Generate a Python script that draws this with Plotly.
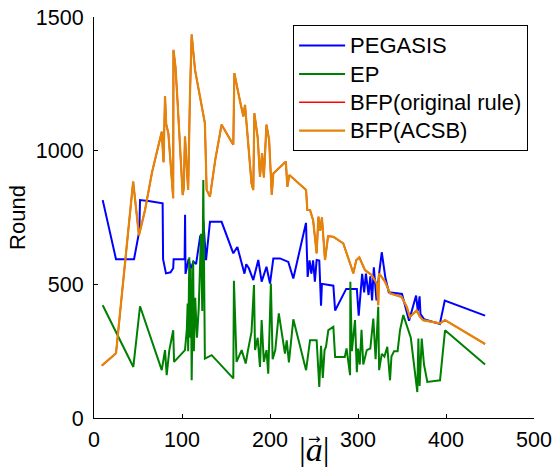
import plotly.graph_objects as go

# PEGASIS
peg_x = [9.9, 25, 45.5, 51.5, 52.3, 62, 78, 78.5, 81.8, 87, 90, 90.5, 103, 103.5, 104, 107.5,
         110, 113, 116, 120.8, 123.6, 124.2, 127.3, 131.8, 145, 158.3, 162.9, 167, 169.7, 171,
         173, 176, 181, 186.7, 190.5, 196, 200, 203.8, 211.4, 220.8, 226.5, 240.9, 242.8, 245,
         247, 249, 251, 253, 256, 258, 259, 272, 274, 286.6, 298.7, 300.8, 304.7, 307, 309,
         312, 314, 316, 318, 321, 324, 327, 331, 335, 350, 358, 366, 368, 370, 371, 375, 393,
         398.6, 444.4]
peg_y = [815, 594, 594, 700, 815, 812, 803, 594, 541, 545, 560, 594, 594, 760, 539, 595,
         560, 585, 576, 683, 576, 740, 590, 734, 734, 616, 640, 590, 566, 540,
         575, 560, 516, 591, 510, 566, 503, 597, 597, 584, 522, 730, 528, 590,
         540, 590, 510, 591, 589, 420, 502, 495, 402, 483, 483, 383, 539, 470, 540,
         460, 530, 440, 564, 440, 540, 620, 527, 470, 464, 364, 458, 400, 455, 389, 370, 352,
         439, 383]

# EP
ep_x = [9.9, 44.7, 52.3, 77, 80.7, 82.6, 85.6, 90, 91, 103.4, 105.5, 106.4, 107, 108.3, 109,
        110, 111, 112.7, 113.5, 115, 117, 119, 121.6, 123, 124.2, 126, 133.7, 158.3, 159, 162,
        167.8, 170, 172.4, 175, 179, 181.8, 183, 186, 188.6, 190.5, 193, 196, 198, 201, 203,
        206, 210, 217, 219, 221.5, 226.5, 241, 245.5, 253, 256, 258, 260, 262, 263.6, 266.3,
        272, 274, 285, 287, 291, 291.3, 293, 296.6, 298.7, 300, 302, 304, 306, 310, 314, 317.4,
        320, 323, 324, 327, 330, 333.3, 336.4, 338, 341, 345, 347.7, 351.5, 357, 360, 367.4,
        368.6, 370, 372.4, 375, 378.8, 393.2, 398.9, 444.4]
ep_y = [422, 191, 418, 179, 254, 160, 254, 328, 210, 254, 333, 428, 250, 601, 300,
        560, 141, 589, 250, 450, 300, 410, 689, 400, 890, 222, 235, 148, 513, 210,
        254, 230, 204, 254, 322, 497, 254, 300, 191, 366, 210, 254, 166, 503, 220,
        254, 391, 241, 290, 208, 369, 179, 291, 291, 116, 270, 150, 254, 266, 329,
        341, 228, 228, 260, 160, 510, 250, 366, 171, 260, 200, 330, 200, 254, 260, 372,
        220, 416, 179, 240, 230, 266, 141, 230, 250, 250, 328, 385, 329, 300, 97,
        297, 120, 297, 200, 135, 141, 328, 200]

# BFP(ACSB)
acsb_x = [8.9, 25, 44.5, 51.1, 58, 66, 77, 79, 80.7, 82, 84.5, 86, 88, 90, 90.3, 92.6, 95, 98,
          100.8, 102, 103.4, 105, 107, 109, 111, 114.8, 120.5, 124, 126, 128, 131.8, 138, 145,
          158.3, 159.5, 165, 169.7, 171.6, 174, 179, 181, 182.2, 186, 188.6, 191, 193, 196, 199,
          202, 203.8, 218, 219.7, 222, 241, 242.4, 245.5, 249, 253, 255, 257, 259, 262.5, 266,
          272, 283.3, 287, 291, 294.7, 298, 301.5, 308, 315.5, 321.3, 323, 323.9, 330.7, 336.4,
          349.6, 355.3, 359, 366.7, 370, 374, 393, 398.9, 444.4]
acsb_y = [196, 242, 884, 683, 778, 920, 1071, 957, 1203, 1100, 1065, 1000, 900, 822, 1377, 1313, 1180, 1020,
          834, 860, 1053, 960, 853, 1203, 1434, 1302, 1203, 1130, 1103, 853, 828, 970, 1097,
          1022, 1290, 1200, 1128, 1171, 1080, 878, 853, 1140, 1050, 903, 990, 900, 1097, 1040,
          834, 915, 959, 865, 909, 853, 778, 778, 740, 616, 753, 700, 750, 591, 680,
          678, 653, 620, 578, 541, 590, 601, 553, 535, 503, 422, 541, 510, 466,
          453, 416, 378, 403, 380, 366, 354, 366, 277]

# BFP(original rule) follows the same curve as BFP(ACSB)
orig_x = list(acsb_x)
orig_y = list(acsb_y)

FONT = "Liberation Sans, Arial, sans-serif"


def legend_label(s):
    # text drawn at 22px while the legend rows are spaced for a slightly smaller font
    return f"<span style='font-size:22px'>{s}</span>"


fig = go.Figure()
fig.add_trace(go.Scatter(x=peg_x, y=peg_y, mode="lines", name=legend_label("PEGASIS"),
                         line=dict(color="#0000FF", width=2)))
fig.add_trace(go.Scatter(x=ep_x, y=ep_y, mode="lines", name=legend_label("EP"),
                         line=dict(color="#008000", width=2)))
fig.add_trace(go.Scatter(x=orig_x, y=orig_y, mode="lines", name=legend_label("BFP(original rule)"),
                         line=dict(color="#FF0000", width=1.6)))
fig.add_trace(go.Scatter(x=acsb_x, y=acsb_y, mode="lines", name=legend_label("BFP(ACSB)"),
                         line=dict(color="#E2850A", width=2.2)))

axis_common = dict(showline=True, linecolor="black", linewidth=1, mirror=False,
                   showgrid=False, zeroline=False, ticks="inside", ticklen=4,
                   tickcolor="black", tickfont=dict(family=FONT, size=21.5, color="black"))

fig.update_layout(
    width=554, height=467,
    margin=dict(l=94, r=20, t=17, b=49, autoexpand=False),
    paper_bgcolor="white", plot_bgcolor="white",
    xaxis=dict(range=[0, 500], tickvals=[0, 100, 200, 300, 400, 500],
               ticklabelstandoff=2, **axis_common),
    yaxis=dict(range=[0, 1500], tickvals=[0, 500, 1000, 1500], ticklabelstandoff=5,
               title=dict(text="Round", font=dict(family=FONT, size=22, color="black"),
                          standoff=4),
               **axis_common),
    legend=dict(x=0.4525, y=0.979, xanchor="left", yanchor="top",
                bgcolor="white", bordercolor="black", borderwidth=1,
                font=dict(family=FONT, size=19.5, color="black"),
                itemwidth=46, tracegroupgap=0),
    showlegend=True,
    annotations=[
        dict(text="|<i>a</i>|", x=0.5, y=-0.079, xref="paper", yref="paper",
             xanchor="center", yanchor="middle", showarrow=False,
             font=dict(family="Liberation Serif, Times New Roman, serif", size=34, color="black")),
        dict(text="→", x=0.502, y=-0.053, xref="paper", yref="paper",
             xanchor="center", yanchor="middle", showarrow=False,
             font=dict(family="DejaVu Sans, sans-serif", size=15, color="black")),
    ],
)

fig.write_html("out.html")
